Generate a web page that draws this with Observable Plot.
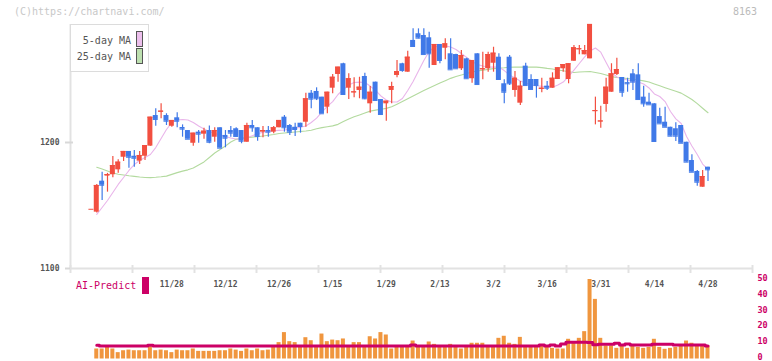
<!DOCTYPE html>
<html><head><meta charset="utf-8">
<script src="https://cdn.jsdelivr.net/npm/d3@7"></script>
<script src="https://cdn.jsdelivr.net/npm/@observablehq/plot@0.6"></script>
<style>
html,body{margin:0;padding:0;background:#fff;}
#wrap{position:relative;width:772px;height:361px;overflow:hidden;font-family:"DejaVu Sans Mono",monospace;}
#vol,#main{position:absolute;left:0;}
#main{top:0;} #vol{top:275px;}
.lbl{position:absolute;white-space:nowrap;line-height:12px;}
</style></head><body>
<div id="wrap">
  <div id="vol"></div>
  <div id="main"></div>
  <div class="lbl" style="left:14px;top:6px;font-size:10px;color:#c8c8c8">(C)https://chartnavi.com/</div>
  <div class="lbl" style="right:15px;top:6px;font-size:10px;color:#bbb">8163</div>
  <div style="position:absolute;left:70px;top:24px;width:77px;height:46px;border:1px solid #dcdcdc;background:#fff"></div>
  <div class="lbl" style="right:641px;top:35px;font-size:10px;color:#555">5-day MA</div>
  <div class="lbl" style="right:641px;top:51px;font-size:10px;color:#555">25-day MA</div>
  <div style="position:absolute;left:136px;top:31px;width:5px;height:14px;border:1px solid #555;background:#ecbfec"></div>
  <div style="position:absolute;left:136px;top:48px;width:5px;height:14px;border:1px solid #555;background:#bde0b0"></div>
  <div class="lbl" style="left:76px;top:280px;font-size:10px;color:#cc0066">AI-Predict</div>
  <div style="position:absolute;left:142px;top:277px;width:7px;height:17px;background:#cc0066"></div>
</div>
<script>
// ---- data (index -1 is the partly visible first candle) ----
const firstCandleIdx = -1;
const open = [1147,
 1144.7,1169.3,1173.3,1174.4,1178.3,1188.3,1192.9,1189.1,1185.2,1189.1,
 1197.1,1221.4,1224.0,1221.4,1212.9,1219.6,1211.9,1209.5,1199.4,1208.2,
 1206.6,1209.5,1204.2,1211.7,1205.6,1209.5,1210.9,1209.5,1200.2,1213.5,
 1211.7,1208.2,1209.5,1208.2,1211.7,1220.1,1213.5,1212.1,1215.3,1216.1,
 1239.1,1240.5,1236,1228,1243.1,1254,1262.5,1243.1,1239.4,1241.3,
 1252.4,1230.7,1247.9,1234.1,1230.7,1241.3,1253.2,1262.5,1255.8,1281,
 1286.3,1284.9,1283.1,1261.1,1277.8,1274.8,1270.4,1269.8,1258.5,1266.4,
 1250.6,1270.4,1257.7,1258.5,1262.9,1267.7,1246.6,1267.7,1241.3,1231.2,
 1260.6,1250,1250,1242.1,1244.7,1243.1,1250,1258.5,1250,1264.5,
 1273.6,1269.6,1266.4,1224.5,1216.3,1230.2,1239.9,1254,1251.6,1247.5,
 1254.5,1253.7,1236,1232,1230.7,1220.6,1216.1,1212.1,1210.9,1213.5,
 1200.2,1185.7,1177,1164.5,1180.4];
const high = [1147,
 1166.7,1176.4,1175.5,1188.9,1186.3,1192.9,1192.9,1193.7,1192.9,1197.6,
 1220.1,1226.7,1230.7,1222.8,1217.5,1223.6,1214,1209.5,1207.4,1209.5,
 1211.3,1213,1211.7,1211.7,1209.5,1212.7,1211.7,1209.5,1215.3,1217.5,
 1211.7,1212.7,1212.7,1212.7,1217.5,1221.4,1214.3,1215.3,1215.3,1239.1,
 1241.3,1243.4,1236,1239.9,1254,1259.8,1262.9,1254.5,1251.3,1251.8,
 1255,1244.4,1247.9,1234.1,1232.8,1247.9,1265.1,1262.9,1272.5,1290.2,
 1290.2,1290.2,1287.5,1277.8,1277.8,1282.3,1282.3,1270,1273,1266.9,
 1265.1,1270.4,1271.7,1271.7,1275.6,1270.4,1249.8,1269,1256.3,1248.4,
 1262.9,1253.7,1250,1251,1248.4,1255.3,1259.3,1261.9,1262.5,1277,
 1277,1277,1293.7,1236,1228.8,1251,1262.5,1266.9,1251.6,1251,
 1257.9,1262.5,1244.7,1239.1,1230.7,1227.2,1228,1212.1,1215.6,1213.5,
 1200.2,1190.2,1177.8,1177.8,1180.4];
const low = [1147,
 1144,1154,1160.6,1172,1175.6,1184.9,1179.6,1180.4,1182.5,1185.7,
 1197.1,1212.9,1218.8,1213.5,1212.1,1211.7,1204.2,1202.6,1197.1,1199.4,
 1202.6,1199,1200.2,1195.5,1195.8,1204.2,1204.2,1199,1200.2,1208.2,
 1201,1203.7,1204.2,1206.9,1211.7,1208.2,1205.6,1204.8,1207.4,1212.1,
 1226.7,1233.3,1222.8,1222.8,1238.7,1247.9,1238.1,1234.1,1235.5,1234.7,
 1233.9,1223.3,1233.3,1222.2,1216.9,1230.7,1251.3,1255.8,1255.8,1276.2,
 1282.3,1269.8,1259,1261.1,1262.5,1265.6,1257.7,1258.5,1257.1,1250.6,
 1247.1,1246,1249.8,1255.8,1255.8,1250,1230.7,1245.2,1236,1229.4,
 1245.2,1242.1,1235.2,1239.4,1241.3,1243.1,1250,1255.8,1246.6,1264.5,
 1269.6,1269.6,1266.4,1214,1211.3,1224,1239.9,1253.2,1236,1239.9,
 1241.3,1234.1,1228,1229.9,1200.8,1214.8,1212.1,1205,1200.8,1199.4,
 1184.4,1176.4,1165.3,1164.5,1169];
const close = [1147,
 1165.9,1166.1,1174.6,1181.7,1184.4,1192.9,1188.3,1187.5,1189.7,1197.6,
 1220.1,1218.3,1224.9,1216.9,1217.5,1216.9,1210.6,1202.6,1207.4,1206.6,
 1209,1200.2,1209.5,1195.5,1203.4,1207.4,1204.8,1201,1213.5,1211.7,
 1204.8,1209.5,1208.2,1211.7,1217.5,1211.7,1208.2,1210.3,1212.7,1234.7,
 1234.4,1234.7,1222.8,1239.9,1251.8,1259.8,1238.1,1250.6,1240.2,1243.9,
 1234.7,1239.9,1233.3,1222.2,1232.8,1244.4,1256.3,1257.1,1267.7,1276.2,
 1282.8,1269.8,1270.4,1277.8,1265.1,1278.3,1257.7,1258.5,1269,1250.6,
 1265.1,1246,1258.5,1269.8,1270.9,1250,1239.9,1246.6,1251,1244.7,
 1245.2,1242.1,1245.2,1243.1,1243.1,1251,1259.3,1261.9,1262.5,1275.2,
 1274.4,1273,1293.7,1225.3,1217.1,1243.9,1254.5,1257.9,1239.9,1246.6,
 1247.9,1234.1,1230.7,1229.9,1200.8,1214.8,1212.1,1205,1205,1199.4,
 1184.4,1176.4,1168.5,1173,1178.3];

// moving averages, volume and AI-Predict, index 0..114
const ma5 = [
 1142.9,1148.4,1154.0,1160.3,1166.7,1172.2,1177.8,1182.5,1185.7,1188.1,
 1190.5,1196.0,1203.2,1210.3,1215.9,1217.9,1218.3,1217.9,1215.9,1213.1,
 1210.7,1208.7,1207.1,1206.0,1204.8,1203.6,1202.8,1203.0,1203.8,1205.3,
 1207.0,1208.1,1208.7,1209.3,1209.6,1209.9,1210.5,1211.3,1212.1,1213.1,
 1215.9,1219.4,1224.2,1228.6,1232.5,1238.1,1242.1,1245.6,1247.6,1247.9,
 1247.6,1244.8,1241.3,1236.9,1233.7,1232.1,1232.1,1234.9,1241.3,1248.4,
 1256.7,1265.1,1272.2,1275.8,1276.6,1276.7,1275.8,1273.8,1270.6,1267.5,
 1264.3,1261.9,1260.7,1259.9,1259.8,1259.8,1257.1,1253.6,1251.2,1248.8,
 1247.2,1245.6,1245.1,1244.7,1244.3,1243.9,1245.6,1248.0,1252.4,1257.5,
 1262.7,1267.9,1272.6,1275.0,1271.7,1263.5,1255.6,1252.0,1250.8,1249.6,
 1248.4,1248.0,1246.4,1243.3,1238.5,1236.5,1232.5,1224.6,1218.7,1215.1,
 1204.8,1197.2,1190.5,1182.9,1178.6];
const ma25 = [
 1180.4,1178.9,1177.4,1175.8,1174.8,1174.2,1173.6,1173.1,1172.6,1172.2,
 1172.1,1172.4,1172.8,1173.3,1174.7,1176.1,1177.3,1178.3,1179.8,1182.2,
 1184.6,1188.1,1191.7,1194.4,1197.2,1200.4,1202.5,1203.3,1203.9,1204.3,
 1204.6,1205.1,1205.8,1206.4,1207.1,1207.5,1207.9,1208.3,1208.7,1209.1,
 1209.7,1210.9,1211.8,1212.5,1213.2,1214.4,1216.6,1218.7,1220.5,1221.9,
 1223.4,1224.9,1225.7,1226.4,1227.1,1228.3,1230.4,1232.6,1234.8,1236.9,
 1239.1,1241.2,1243.3,1245.3,1247.2,1249.0,1250.9,1252.3,1253.6,1254.8,
 1256.0,1256.7,1257.4,1258.0,1258.6,1259.0,1259.3,1259.7,1259.8,1259.8,
 1259.8,1259.8,1259.8,1259.4,1258.8,1258.3,1257.6,1256.9,1256.1,1255.6,
 1255.9,1256.1,1256.3,1255.6,1254.8,1253.5,1252.3,1251.6,1251.2,1250.8,
 1250.2,1249.6,1248.9,1248.0,1246.5,1245.0,1243.5,1242.1,1240.7,1239.2,
 1236.7,1234.1,1230.9,1227.2,1223.6];
const volume = [
 6.3,6.3,7.3,6.3,4.0,5.2,5.6,5.2,5.2,5.2,
 7.7,5.2,5.6,5.2,4.0,5.6,5.2,5.2,6.3,4.8,
 4.8,4.8,4.8,5.2,5.2,6.3,5.6,4.8,6.3,5.2,
 6.3,5.2,5.6,7.3,10.3,16.6,10.9,10.3,7.3,13.4,
 11.5,7.3,15.7,10.9,11.9,11.5,12.6,7.3,10.3,10.3,
 7.3,14.0,12.6,16.6,15.1,6.3,8.2,8.2,8.2,11.3,
 8.2,8.2,10.7,9.2,8.2,8.2,9.2,8.2,6.3,8.2,
 9.9,9.9,9.9,8.2,8.2,13.0,14.3,9.9,9.2,13.6,
 8.2,8.2,8.2,8.2,8.2,6.7,6.3,6.3,12.4,9.9,
 13.0,17.2,50,37.5,13.0,8.2,8.2,6.7,8.2,6.7,
 8.2,7.3,6.7,7.3,12.4,7.3,6.1,6.7,7.3,8.6,
 11.3,9.9,8.6,8.2,8.2];
const aiPredict = [
 8.6,8.2,8.2,8.2,8.2,8.2,8.2,8.2,8.2,8.2,
 8.7,8.2,8.2,8.2,8.2,8.2,8.2,8.2,8.2,8.2,
 8.2,8.2,8.2,8.2,8.2,8.2,8.2,8.2,8.2,8.2,
 8.2,8.2,8.2,8.2,8.2,8.2,8.2,8.2,8.2,8.2,
 8.2,8.2,8.2,8.2,8.2,8.2,8.2,8.2,8.2,8.2,
 8.2,8.2,8.2,8.2,8.2,8.2,8.2,8.2,8.2,8.8,
 8.2,8.2,8.2,8.2,8.2,8.2,8.2,8.2,8.2,8.2,
 8.2,8.2,8.2,8.2,8.2,8.2,8.2,8.2,8.2,8.2,
 8.2,8.2,8.2,8.8,8.2,8.8,8.2,9.5,10.5,10.5,
 10.5,10.5,10.3,9.0,9.2,9.2,9.2,9.9,8.8,9.4,
 8.8,8.8,8.8,8.8,9.2,9.2,9.2,9.2,8.8,8.8,
 8.8,8.8,8.8,8.8,8.2];
const dateTickIdx = [14,24,34,44,54,64,74,84,94,104,114];
const dateTickLabels = ["11/28","12/12","12/26","1/15","1/29","2/13","3/2","3/16","3/31","4/14","4/28"];
const priceTicks = [1100, 1200];
const volumeTicks = [0, 10, 20, 30, 40, 50];

// ---- build tables ----
const candles = open.map((o, k) => ({i: k + firstCandleIdx, o, h: high[k], l: low[k], c: close[k]}));
const days = ma5.map((m, i) => ({i, ma5: m, ma25: ma25[i], vol: volume[i], ai: aiPredict[i]}));

const xDomain = [-4.9, 122.3];
const yDomain = [1100, 1293.65];
const ML = 70, MR = 20, W = 772;
const pxPerIdx = (W - ML - MR) / (xDomain[1] - xDomain[0]);
const pxPerYen = 244 / (yDomain[1] - yDomain[0]);
const gridTicks = d3.range(12).map(k => xDomain[0] + k * (xDomain[1] - xDomain[0]) / 11);
const RED = "#f24f40", BLUE = "#4079e8";
const col = d => d.c >= d.o ? RED : BLUE;
const bodyHalf = 2.5 / pxPerIdx;
const font = {fontFamily: "DejaVu Sans Mono, monospace", background: "transparent", overflow: "visible"};

const main = Plot.plot({
  width: W, height: 300,
  marginLeft: ML, marginRight: MR, marginTop: 24, marginBottom: 32,
  x: {domain: xDomain, axis: null},
  y: {domain: yDomain, axis: null},
  style: font,
  marks: [
    Plot.ruleX([xDomain[0]], {stroke: "#e2e2e2", strokeWidth: 2}),
    Plot.ruleY([yDomain[0]], {stroke: "#e2e2e2", strokeWidth: 2}),
    Plot.ruleX(gridTicks, {y1: yDomain[0] - 5 / pxPerYen, y2: yDomain[0] + 3 / pxPerYen, stroke: "#e2e2e2", strokeWidth: 2}),
    Plot.ruleY(priceTicks, {x1: xDomain[0] - 5 / pxPerIdx, x2: d => xDomain[0] + (d === 1200 ? 3 : 0) / pxPerIdx, stroke: "#d8d8d8", strokeWidth: 2}),
    Plot.text(priceTicks, {y: d => d, text: d => String(d), frameAnchor: "left", dx: -11, textAnchor: "end", fill: "#555", fontSize: 8, fontWeight: "bold"}),
    Plot.text(dateTickIdx, {x: d => d, text: (d, i) => dateTickLabels[i], frameAnchor: "bottom", dy: 18, fill: "#555", fontSize: 8, fontWeight: "bold"}),
    Plot.line(days, {x: "i", y: "ma25", stroke: "#b3da9f", strokeWidth: 1.1}),
    Plot.line(days, {x: "i", y: "ma5", stroke: "#e9b5ea", strokeWidth: 1.1}),
    Plot.ruleX(candles, {x: "i", y1: "l", y2: "h", stroke: col, strokeWidth: 1.2}),
    Plot.rect(candles, {x1: d => d.i - bodyHalf, x2: d => d.i + bodyHalf, y1: "o", y2: "c", fill: col}),
    Plot.ruleY(candles, {x1: d => d.i - bodyHalf, x2: d => d.i + bodyHalf, y: "c", stroke: col, strokeWidth: 1})
  ]
});
document.getElementById("main").appendChild(main);

const vol = Plot.plot({
  width: W, height: 86,
  marginLeft: ML, marginRight: MR, marginTop: 4, marginBottom: 2.5,
  x: {domain: xDomain, axis: null},
  y: {domain: [0, 50], axis: null},
  style: font,
  marks: [
    Plot.rectY(days, {x1: d => d.i - 2 / pxPerIdx, x2: d => d.i + 2 / pxPerIdx, y: "vol", fill: "#f0963e"}),
    Plot.line(days, {x: "i", y: "ai", stroke: "#cc0066", strokeWidth: 3, curve: "step"}),
    Plot.text(volumeTicks, {y: d => d, text: d => String(d), frameAnchor: "right", dx: 5, dy: -1.5, textAnchor: "start", fill: "#cc0066", fontSize: 8.5, fontWeight: "bold"})
  ]
});
document.getElementById("vol").appendChild(vol);
</script>
</body></html>
